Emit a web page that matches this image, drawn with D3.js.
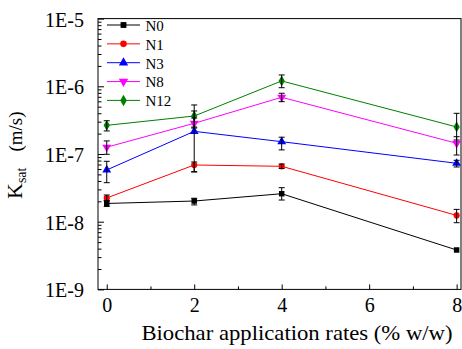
<!DOCTYPE html>
<html>
<head>
<meta charset="utf-8">
<script src="https://cdn.jsdelivr.net/npm/d3@7/dist/d3.min.js"></script>
<style>
html,body{margin:0;padding:0;background:#fff;}
svg{display:block;}
text{font-family:"Liberation Serif","Times New Roman",serif;fill:#000;}
</style>
</head>
<body>
<svg id="chart" width="462" height="349"></svg>
<script>
// ---- data ----
const rates = [0, 2, 4, 8];
const seriesNames = ["N0", "N1", "N3", "N8", "N12"];
const seriesColors = ["#000000", "#ff0000", "#0000ff", "#ff00ff", "#008000"];
const N0  = [1.86e-8, 2.02e-8, 2.59e-8, 3.82e-9];
const N1  = [2.24e-8, 6.88e-8, 6.58e-8, 1.24e-8];
const N3  = [5.81e-8, 2.16e-7, 1.52e-7, 7.29e-8];
const N8  = [1.26e-7, 2.84e-7, 6.88e-7, 1.44e-7];
const N12 = [2.65e-7, 3.64e-7, 1.20e-6, 2.51e-7];
// error bar upper / lower values (null = none)
const N0hi  = [2.06e-8, 2.22e-8, 3.18e-8, null];
const N0lo  = [1.68e-8, 1.77e-8, 2.09e-8, null];
const N1hi  = [2.48e-8, 7.62e-8, 7.11e-8, 1.52e-8];
const N1lo  = [2.02e-8, 5.48e-8, 6.11e-8, 9.66e-9];
const N3hi  = [7.80e-8, 4.32e-7, 1.77e-7, 8.07e-8];
const N3lo  = [3.77e-8, 5.42e-8, 1.15e-7, 6.43e-8];
const N8hi  = [1.56e-7, 3.40e-7, 7.89e-7, 1.80e-7];
const N8lo  = [9.90e-8, 2.42e-7, 5.93e-7, 9.66e-8];
const N12hi = [3.10e-7, 5.30e-7, 1.47e-6, 3.99e-7];
const N12lo = [2.19e-7, 2.50e-7, 9.53e-7, 1.61e-7];
const xTickValues = [0, 2, 4, 6, 8];
const xMinorTicks = [1, 3, 5, 7];
const yTickValues = [1e-9, 1e-8, 1e-7, 1e-6, 1e-5];
const yTickLabels = ["1E-9", "1E-8", "1E-7", "1E-6", "1E-5"];
const xTitle = "Biochar application rates (% w/w)";

const seriesVals = [N0, N1, N3, N8, N12];
const seriesHi = [N0hi, N1hi, N3hi, N8hi, N12hi];
const seriesLo = [N0lo, N1lo, N3lo, N8lo, N12lo];

// ---- layout ----
const L = 98, R = 461, T = 18.6, B = 289.4;
const svg = d3.select("#chart");
const x = d3.scaleLinear().domain([-0.2, 8.1]).range([L, R]);
const y = d3.scaleLog().domain([1e-9, 1e-5]).range([B, T]);
const serif = '"Liberation Serif", "Times New Roman", serif';

function stretch(sel, sx) {
  sel.each(function () {
    const w = this.getComputedTextLength();
    d3.select(this).attr("textLength", w * sx).attr("lengthAdjust", "spacingAndGlyphs");
  });
}

// minor y ticks
const yMinor = [];
for (let e = -9; e < -5; e++) for (let m = 2; m <= 9; m++) yMinor.push(m * Math.pow(10, e));

const gyMinor = svg.append("g").attr("transform", `translate(${L},0)`)
  .call(d3.axisLeft(y).tickValues(yMinor).tickSizeInner(-3.5).tickSizeOuter(0).tickFormat(""));
gyMinor.select(".domain").remove();

const gy = svg.append("g").attr("transform", `translate(${L},0)`)
  .call(d3.axisLeft(y).tickValues(yTickValues).tickSizeInner(-6).tickSizeOuter(0)
    .tickPadding(14).tickFormat((d, i) => yTickLabels[i]));
gy.select(".domain").remove();
gy.attr("font-family", serif).attr("font-size", 20);
gy.selectAll("text").attr("dy", null).attr("transform", "translate(0,7.5)");

const gxMinor = svg.append("g").attr("transform", `translate(0,${B})`)
  .call(d3.axisBottom(x).tickValues(xMinorTicks).tickSizeInner(-3).tickSizeOuter(0).tickFormat(""));
gxMinor.select(".domain").remove();

const gx = svg.append("g").attr("transform", `translate(0,${B})`)
  .call(d3.axisBottom(x).tickValues(xTickValues).tickSizeInner(-5).tickSizeOuter(0)
    .tickPadding(10).tickFormat(d3.format("d")));
gx.select(".domain").remove();
gx.attr("font-family", serif).attr("font-size", 20);
gx.selectAll("text").attr("y", 0).attr("dy", null).attr("transform", "translate(0,23)");

svg.selectAll(".tick line").attr("stroke", "#000").attr("stroke-width", 1);

// frame
svg.append("rect").attr("x", L).attr("y", T).attr("width", R - L).attr("height", B - T)
  .attr("fill", "none").attr("stroke", "#000").attr("stroke-width", 1);

// x title
const xt = svg.append("text").attr("x", 297).attr("y", 340).attr("text-anchor", "middle")
  .attr("font-size", 21).text(xTitle);
stretch(xt, 1.08);

// y title
const yt = svg.append("text").attr("transform", "translate(21.5,199) rotate(-90)")
  .attr("text-anchor", "start");
yt.append("tspan").attr("font-size", 22).text("K");
yt.append("tspan").attr("font-size", 14).attr("dy", 4).text("sat");
yt.append("tspan").attr("font-size", 19).attr("dy", -4).attr("dx", 16).text("(m/s)");

// markers
const symTypes = [d3.symbolSquare, d3.symbolCircle, d3.symbolTriangle, d3.symbolTriangle, d3.symbolDiamond];
const symSizes = [30, 30, 34, 34, 34];
const symRot = [0, 0, 0, 180, 0];

const line = d3.line().x(d => x(d[0])).y(d => y(d[1]));
const plot = svg.append("g");

seriesVals.forEach((vals, s) => {
  plot.append("path").datum(rates.map((r, i) => [r, vals[i]]))
    .attr("d", line).attr("fill", "none").attr("stroke", seriesColors[s]).attr("stroke-width", 1);
});

seriesVals.forEach((vals, s) => {
  plot.append("g").selectAll("path").data(rates.map((r, i) => [r, vals[i]])).join("path")
    .attr("transform", d => `translate(${x(d[0])},${y(d[1])}) rotate(${symRot[s]})`)
    .attr("d", d3.symbol().type(symTypes[s]).size(symSizes[s]))
    .attr("fill", seriesColors[s]);
});

seriesVals.forEach((vals, s) => {
  const eb = rates.map((r, i) => ({ r, hi: seriesHi[s][i], lo: seriesLo[s][i] })).filter(d => d.hi != null);
  const g = plot.append("g").attr("stroke", "#000").attr("stroke-width", 1);
  g.selectAll(".v").data(eb).join("line")
    .attr("x1", d => x(d.r)).attr("x2", d => x(d.r)).attr("y1", d => y(d.hi)).attr("y2", d => y(d.lo));
  g.selectAll(".ch").data(eb).join("line")
    .attr("x1", d => x(d.r) - 3).attr("x2", d => x(d.r) + 3).attr("y1", d => y(d.hi)).attr("y2", d => y(d.hi));
  g.selectAll(".cl").data(eb).join("line")
    .attr("x1", d => x(d.r) - 3).attr("x2", d => x(d.r) + 3).attr("y1", d => y(d.lo)).attr("y2", d => y(d.lo));
});

// legend
const lg = svg.append("g");
seriesNames.forEach((name, i) => {
  const ry = 25 + i * 18.85;
  lg.append("line").attr("x1", 107).attr("x2", 140).attr("y1", ry).attr("y2", ry)
    .attr("stroke", seriesColors[i]).attr("stroke-width", 1);
  lg.append("path").attr("transform", `translate(123.5,${ry}) rotate(${symRot[i]})`)
    .attr("d", d3.symbol().type(symTypes[i]).size(symSizes[i] + 4)).attr("fill", seriesColors[i]);
  lg.append("text").attr("x", 145.5).attr("y", ry + 5.8).attr("font-size", 15).text(name);
});
</script>
</body>
</html>
